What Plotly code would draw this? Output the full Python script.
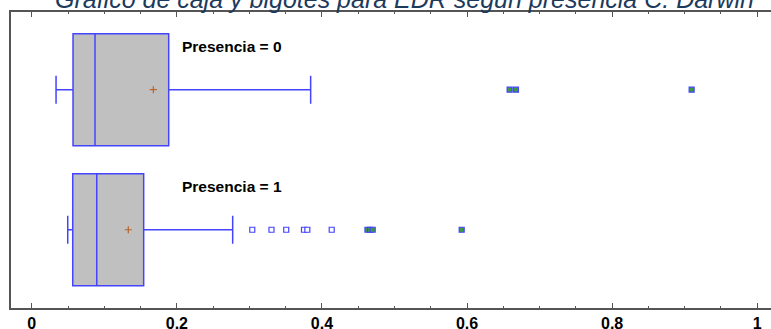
import plotly.graph_objects as go

# Summary statistics of EDR for each group (Presencia = 0, Presencia = 1)
groups = [0, 1]
group_labels = ["Presencia = 0", "Presencia = 1"]
lower_whisker = [0.0334, 0.0495]
q1 = [0.0568, 0.0564]
median = [0.0871, 0.0895]
q3 = [0.1887, 0.1542]
upper_whisker = [0.3844, 0.2769]
mean = [0.1675, 0.1330]

# Outside points (beyond 1.5 IQR) and far-outside points (beyond 3 IQR)
outside_0 = []
far_outside_0 = [0.6587, 0.6674, 0.9096]
outside_1 = [0.3039, 0.3304, 0.3507, 0.3752, 0.3798, 0.4134]
far_outside_1 = [0.4627, 0.4662, 0.4699, 0.5926]

title_text = "Gráfico de caja y bigotes para EDR según presencia C. Darwin"
x_ticks = [0, 0.2, 0.4, 0.6, 0.8, 1]
x_tick_text = ["0", "0.2", "0.4", "0.6", "0.8", "1"]

BLUE = "#4444ff"
GREEN = "#3c9c3c"
BROWN = "#b8642a"
AXIS = "#555555"

fig = go.Figure()

for i, g in enumerate(groups):
    fig.add_trace(go.Box(
        orientation="h",
        y=[g],
        q1=[q1[i]],
        median=[median[i]],
        q3=[q3[i]],
        lowerfence=[lower_whisker[i]],
        upperfence=[upper_whisker[i]],
        boxpoints=False,
        width=0.8,
        whiskerwidth=0.25,
        fillcolor="#c0c0c0",
        line=dict(color=BLUE, width=1.5),
        showlegend=False,
        hoverinfo="skip",
    ))

# Means
fig.add_trace(go.Scatter(
    x=mean, y=groups, mode="markers",
    marker=dict(symbol="cross-thin", size=5, line=dict(color=BROWN, width=1.2)),
    showlegend=False, hoverinfo="skip",
))

# Outside points: open blue squares
out_x = outside_0 + outside_1
out_y = [0] * len(outside_0) + [1] * len(outside_1)
fig.add_trace(go.Scatter(
    x=out_x, y=out_y, mode="markers",
    marker=dict(symbol="square", size=5, color="white", line=dict(color=BLUE, width=1.2)),
    showlegend=False, hoverinfo="skip",
))

# Far-outside points: green squares with blue outline
far_x = far_outside_0 + far_outside_1
far_y = [0] * len(far_outside_0) + [1] * len(far_outside_1)
fig.add_trace(go.Scatter(
    x=far_x, y=far_y, mode="markers",
    marker=dict(symbol="square", size=5, color=GREEN, line=dict(color=BLUE, width=1.2)),
    showlegend=False, hoverinfo="skip",
))

# Group labels above each box
for g, label in zip(groups, group_labels):
    fig.add_annotation(
        x=0.2043, y=g - 0.307, xref="x", yref="y",
        text=label, showarrow=False, xanchor="left", yanchor="middle",
        font=dict(family="Liberation Sans, Arial", size=15.5, color="black", weight="bold"),
    )

# Title, partly above the top edge of the figure
fig.add_annotation(
    x=0.518, xref="paper", y=1.0439, yref="paper",
    text=title_text, showarrow=False, xanchor="center", yanchor="middle",
    font=dict(family="Liberation Sans, Arial", size=25, color="#1b3a5c", style="italic"),
)

fig.update_layout(
    width=771, height=329,
    margin=dict(l=11, r=0, t=12, b=21),
    paper_bgcolor="white", plot_bgcolor="white",
    xaxis=dict(
        range=[-0.0287, 1.019],
        automargin=False,
        tickvals=x_ticks, ticktext=x_tick_text,
        ticks="inside", ticklen=5, tickwidth=1.2, tickcolor=AXIS,
        minor=dict(dtick=0.05, tick0=0, ticks="inside", ticklen=2.5, tickwidth=1.2, tickcolor=AXIS),
        showline=True, linecolor=AXIS, linewidth=1.5, mirror="ticks",
        showgrid=False, zeroline=False,
        tickfont=dict(family="Liberation Sans, Arial", size=16, color="black", weight="bold"),
        ticklabelstandoff=0,
    ),
    yaxis=dict(
        range=[1.559, -0.555],
        automargin=False,
        showticklabels=False, ticks="",
        showline=True, linecolor=AXIS, linewidth=1.5, mirror=False,
        showgrid=False, zeroline=False,
    ),
)

fig.write_html("out.html")
